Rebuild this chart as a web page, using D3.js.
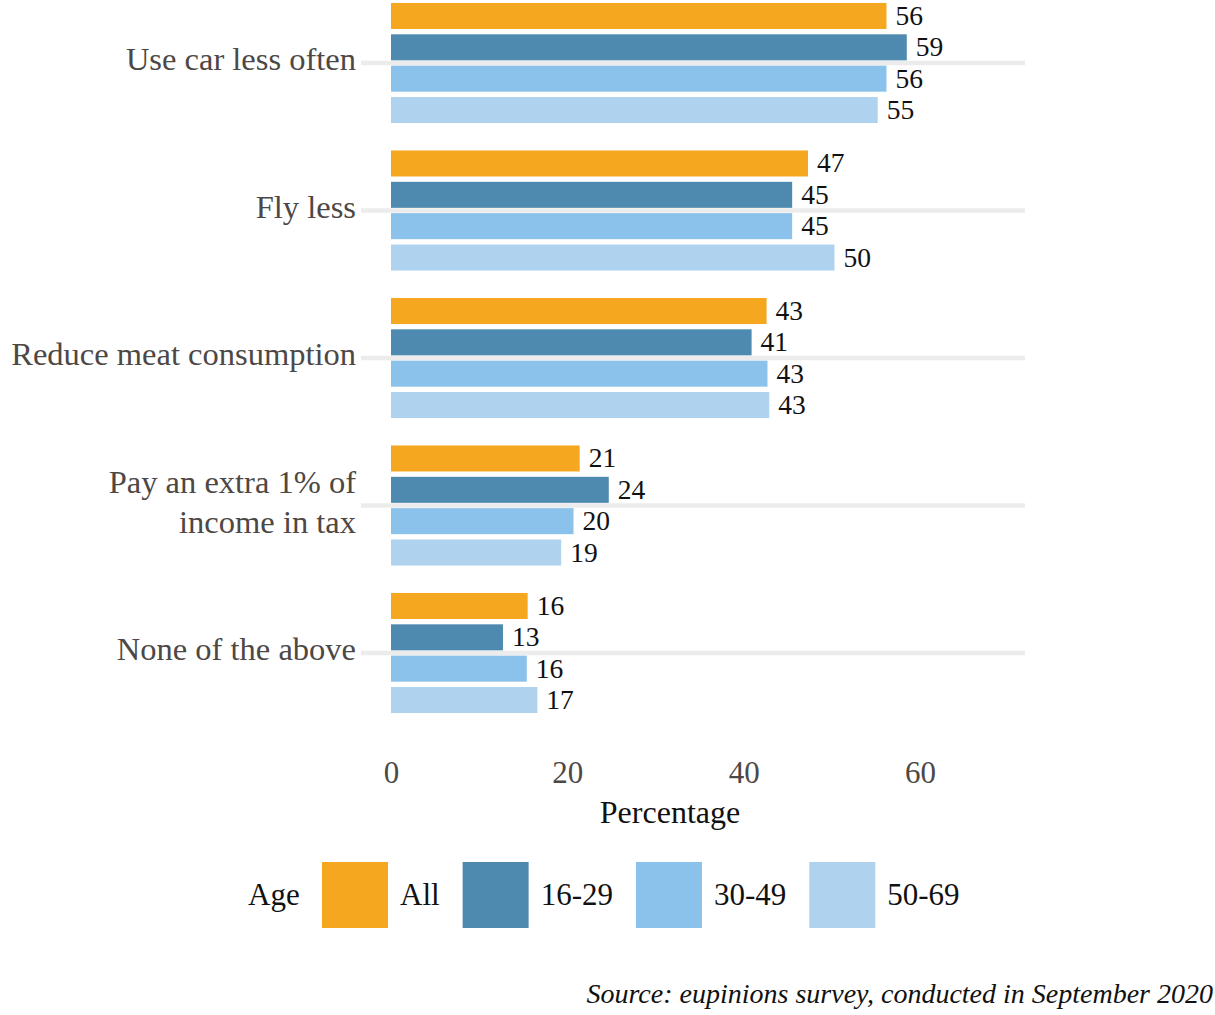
<!DOCTYPE html>
<html>
<head>
<meta charset="utf-8">
<script src="https://cdn.jsdelivr.net/npm/d3@7"></script>
<style>
  html, body { margin: 0; padding: 0; background: #ffffff; }
  svg { display: block; }
  text { font-family: "Liberation Serif", "Times New Roman", serif; }
</style>
</head>
<body>
<svg id="chart" width="1215" height="1015"></svg>
<script>
// ---- data ----
const categories = ["Use car less often", "Fly less", "Reduce meat consumption", "Pay an extra 1% of income in tax", "None of the above"];
const categoryLines = [["Use car less often"], ["Fly less"], ["Reduce meat consumption"], ["Pay an extra 1% of", "income in tax"], ["None of the above"]];
const series = ["All", "16-29", "30-49", "50-69"];
const valuesAll   = [56.2, 47.3, 42.6, 21.4, 15.5];
const values1629  = [58.5, 45.5, 40.9, 24.7, 12.7];
const values3049  = [56.2, 45.5, 42.7, 20.7, 15.4];
const values5069  = [55.2, 50.3, 42.9, 19.3, 16.6];
const labelsAll   = ["56", "47", "43", "21", "16"];
const labels1629  = ["59", "45", "41", "24", "13"];
const labels3049  = ["56", "45", "43", "20", "16"];
const labels5069  = ["55", "50", "43", "19", "17"];
const xTicks = [0, 20, 40, 60];
const xTitle = "Percentage";
const legendTitle = "Age";
const sourceText = "Source: eupinions survey, conducted in September 2020";
const colors = ["#F5A81F", "#4E8AB0", "#8BC2EB", "#AFD2EE"];

const seriesValues = [valuesAll, values1629, values3049, values5069];
const seriesLabels = [labelsAll, labels1629, labels3049, labels5069];

const rows = [];
categories.forEach((c, ci) => {
  series.forEach((s, si) => {
    rows.push({ cat: c, ser: s, value: seriesValues[si][ci], label: seriesLabels[si][ci], color: colors[si] });
  });
});

// ---- scales ----
const svg = d3.select("#chart");
const x = d3.scaleLinear().domain([0, 60]).range([391, 920]);
const y0 = d3.scaleBand().domain(categories).range([-10.75, 726.75]).paddingInner(0.186).paddingOuter(0.093);
const y1 = d3.scaleBand().domain(series).range([0, y0.bandwidth()]).paddingInner(0.17).paddingOuter(0);
const color = d3.scaleOrdinal().domain(series).range(colors);

const catGray = "#4d4845";

// grid lines
svg.append("g").selectAll("line").data(categories).join("line")
  .attr("x1", 361).attr("x2", 1025)
  .attr("y1", d => y0(d) + y0.bandwidth() / 2)
  .attr("y2", d => y0(d) + y0.bandwidth() / 2)
  .attr("stroke", "#ececec").attr("stroke-width", 4.5);

// bars
svg.append("g").selectAll("rect").data(rows).join("rect")
  .attr("x", x(0))
  .attr("y", d => y0(d.cat) + y1(d.ser))
  .attr("width", d => x(d.value) - x(0))
  .attr("height", y1.bandwidth())
  .attr("fill", d => color(d.ser));

// value labels
svg.append("g").selectAll("text").data(rows).join("text")
  .attr("x", d => x(d.value) + 9)
  .attr("y", d => y0(d.cat) + y1(d.ser) + y1.bandwidth() / 2 + 9)
  .attr("font-size", 27.5)
  .attr("fill", "#111111")
  .text(d => d.label);

// category labels
const catG = svg.append("g");
categories.forEach((c, ci) => {
  const lines = categoryLines[ci];
  const cy = y0(c) + y0.bandwidth() / 2;
  const lh = 40;
  const startBase = cy + 7 - (lines.length - 1) * lh / 2;
  const t = catG.append("text")
    .attr("text-anchor", "end")
    .attr("font-size", 32.5)
    .attr("fill", catGray);
  lines.forEach((ln, li) => {
    t.append("tspan").attr("x", 356).attr("y", startBase + li * lh).text(ln);
  });
});

// x axis (tick labels only)
const xAxis = d3.axisBottom(x).tickValues(xTicks).tickSize(0).tickPadding(0);
const axG = svg.append("g").attr("transform", "translate(0,760)").call(xAxis);
axG.select(".domain").remove();
axG.selectAll("text")
  .attr("font-family", "Liberation Serif, serif")
  .attr("font-size", 31)
  .attr("fill", catGray)
  .attr("dy", null)
  .attr("y", 23);

svg.append("text")
  .attr("x", 670).attr("y", 823)
  .attr("text-anchor", "middle")
  .attr("font-size", 32)
  .attr("fill", "#111111")
  .text(xTitle);

// legend
const legG = svg.append("g");
const legBase = 905;
legG.append("text").attr("x", 248).attr("y", legBase)
  .attr("font-size", 31).attr("fill", "#111111").text(legendTitle);
let lx = 322;
series.forEach((s, i) => {
  legG.append("rect").attr("x", lx).attr("y", 862).attr("width", 66).attr("height", 66).attr("fill", color(s));
  const tt = legG.append("text").attr("x", lx + 66 + 12).attr("y", legBase)
    .attr("font-size", 31).attr("fill", "#111111").text(s);
  const w = tt.node().getComputedTextLength();
  lx = lx + 66 + 12 + w + 23;
});

// source
svg.append("text")
  .attr("x", 1213).attr("y", 1003)
  .attr("text-anchor", "end")
  .attr("font-size", 28)
  .attr("font-style", "italic")
  .attr("fill", "#111111")
  .text(sourceText);
</script>
</body>
</html>
